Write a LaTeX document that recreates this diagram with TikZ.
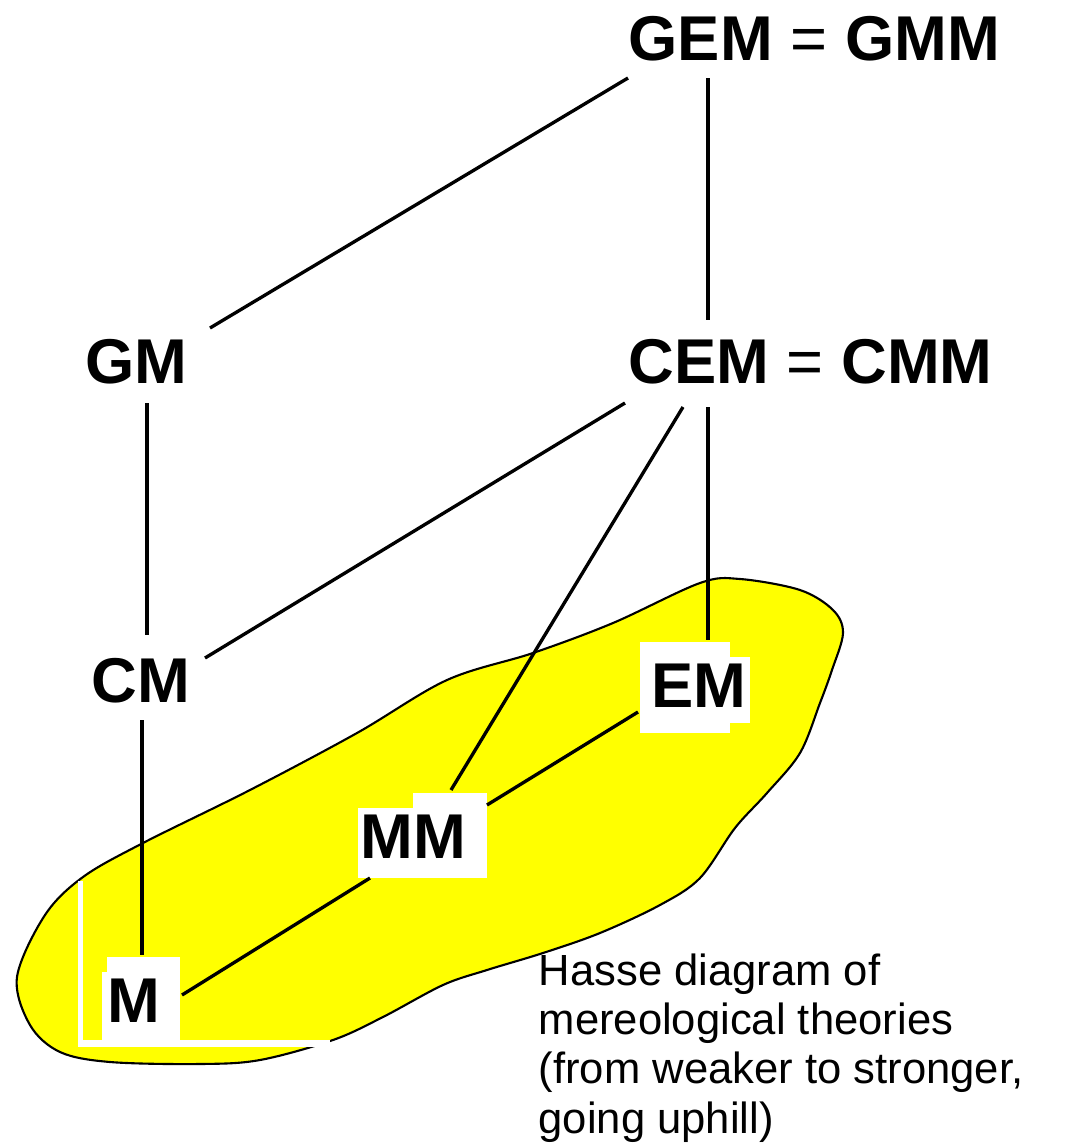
\documentclass[tikz,border=0pt]{standalone}
\usepackage{fontspec}
\setmainfont{Liberation Sans}
\usetikzlibrary{calc}
\definecolor{blobyellow}{RGB}{255,255,0}
\begin{document}
\begin{tikzpicture}[x=0.01cm,y=-0.01cm,
  theory/.style={anchor=base west,inner sep=0pt,font=\fontsize{18}{22}\selectfont\bfseries},
  edge/.style={line width=0.95pt,black},
  blob/.style={fill=blobyellow,draw=black,line width=0.6pt},
  caption/.style={anchor=base west,inner sep=0pt,align=left,font=\fontsize{12.4}{14}\selectfont}]
\useasboundingbox (0,0) rectangle (1089,1145);
% yellow region
\path[blob] plot[smooth cycle,tension=0.55] coordinates {
 (17,977) (45,915) (83,877) (143,843) (250,790) (357,733) (447,680) (533,653)
 (613,623) (700,583) (740,579) (800,590) (833,610) (843,633) (832,670) (820,703)
 (800,753) (767,793) (735,828) (700,878) (660,905) (600,933) (543,953) (487,970)
 (443,985) (383,1017) (333,1040) (260,1060) (200,1064) (110,1062) (60,1052) (30,1025)};
% white patches behind labels
\fill[white] (640,642) rectangle (730,733);
\fill[white] (730,657) rectangle (750,723);
\fill[white] (358,808) rectangle (487,878);
\fill[white] (413,793) rectangle (487,808);
\fill[white] (102,972) rectangle (180,1040);
\fill[white] (107,957) rectangle (180,972);
\fill[white] (78,881) rectangle (83,1047);
\fill[white] (78,1040) rectangle (330,1047);
% labels
\node[theory] (GEM) at (628,60) {GEM {\mdseries =} GMM};
\node[theory] (CEM) at (628,383) {CEM {\mdseries =} CMM};
\node[theory] (GM) at (85,383) {GM};
\node[theory] (CM) at (91,702) {CM};
\node[theory] (EM) at (651,707) {EM};
\node[theory] (MM) at (360,858) {MM};
\node[theory] (M) at (107,1022) {M};
% connectors
\draw[edge] ($(GEM.base west)+(0,18)$) -- ($(GM.base west)+(125,-55)$);
\draw[edge] ($(GEM.base west)+(80,18)$) -- ($(CEM.base west)+(80,-63)$);
\draw[edge] ($(GM.base west)+(62,20)$) -- ($(CM.base west)+(56,-67)$);
\draw[edge] ($(CEM.base west)+(-3,20)$) -- ($(CM.base west)+(114,-44)$);
\draw[edge] ($(CEM.base west)+(55,24)$) -- ($(MM.base west)+(91,-68)$);
\draw[edge] ($(CEM.base west)+(80,24)$) -- ($(EM.base west)+(57,-67)$);
\draw[edge] ($(CM.base west)+(51,18)$) -- ($(M.base west)+(35,-67)$);
\draw[edge] ($(MM.base west)+(127,-53)$) -- ($(EM.base west)+(-13,5)$);
\draw[edge] ($(M.base west)+(75,-27)$) -- ($(MM.base west)+(10,20)$);
% caption (base anchor is the baseline of its last line)
\node[caption] (cap) at (538,1133) {Hasse diagram of\\mereological theories\\(from weaker to stronger,\\going uphill)};
\end{tikzpicture}
\end{document}
